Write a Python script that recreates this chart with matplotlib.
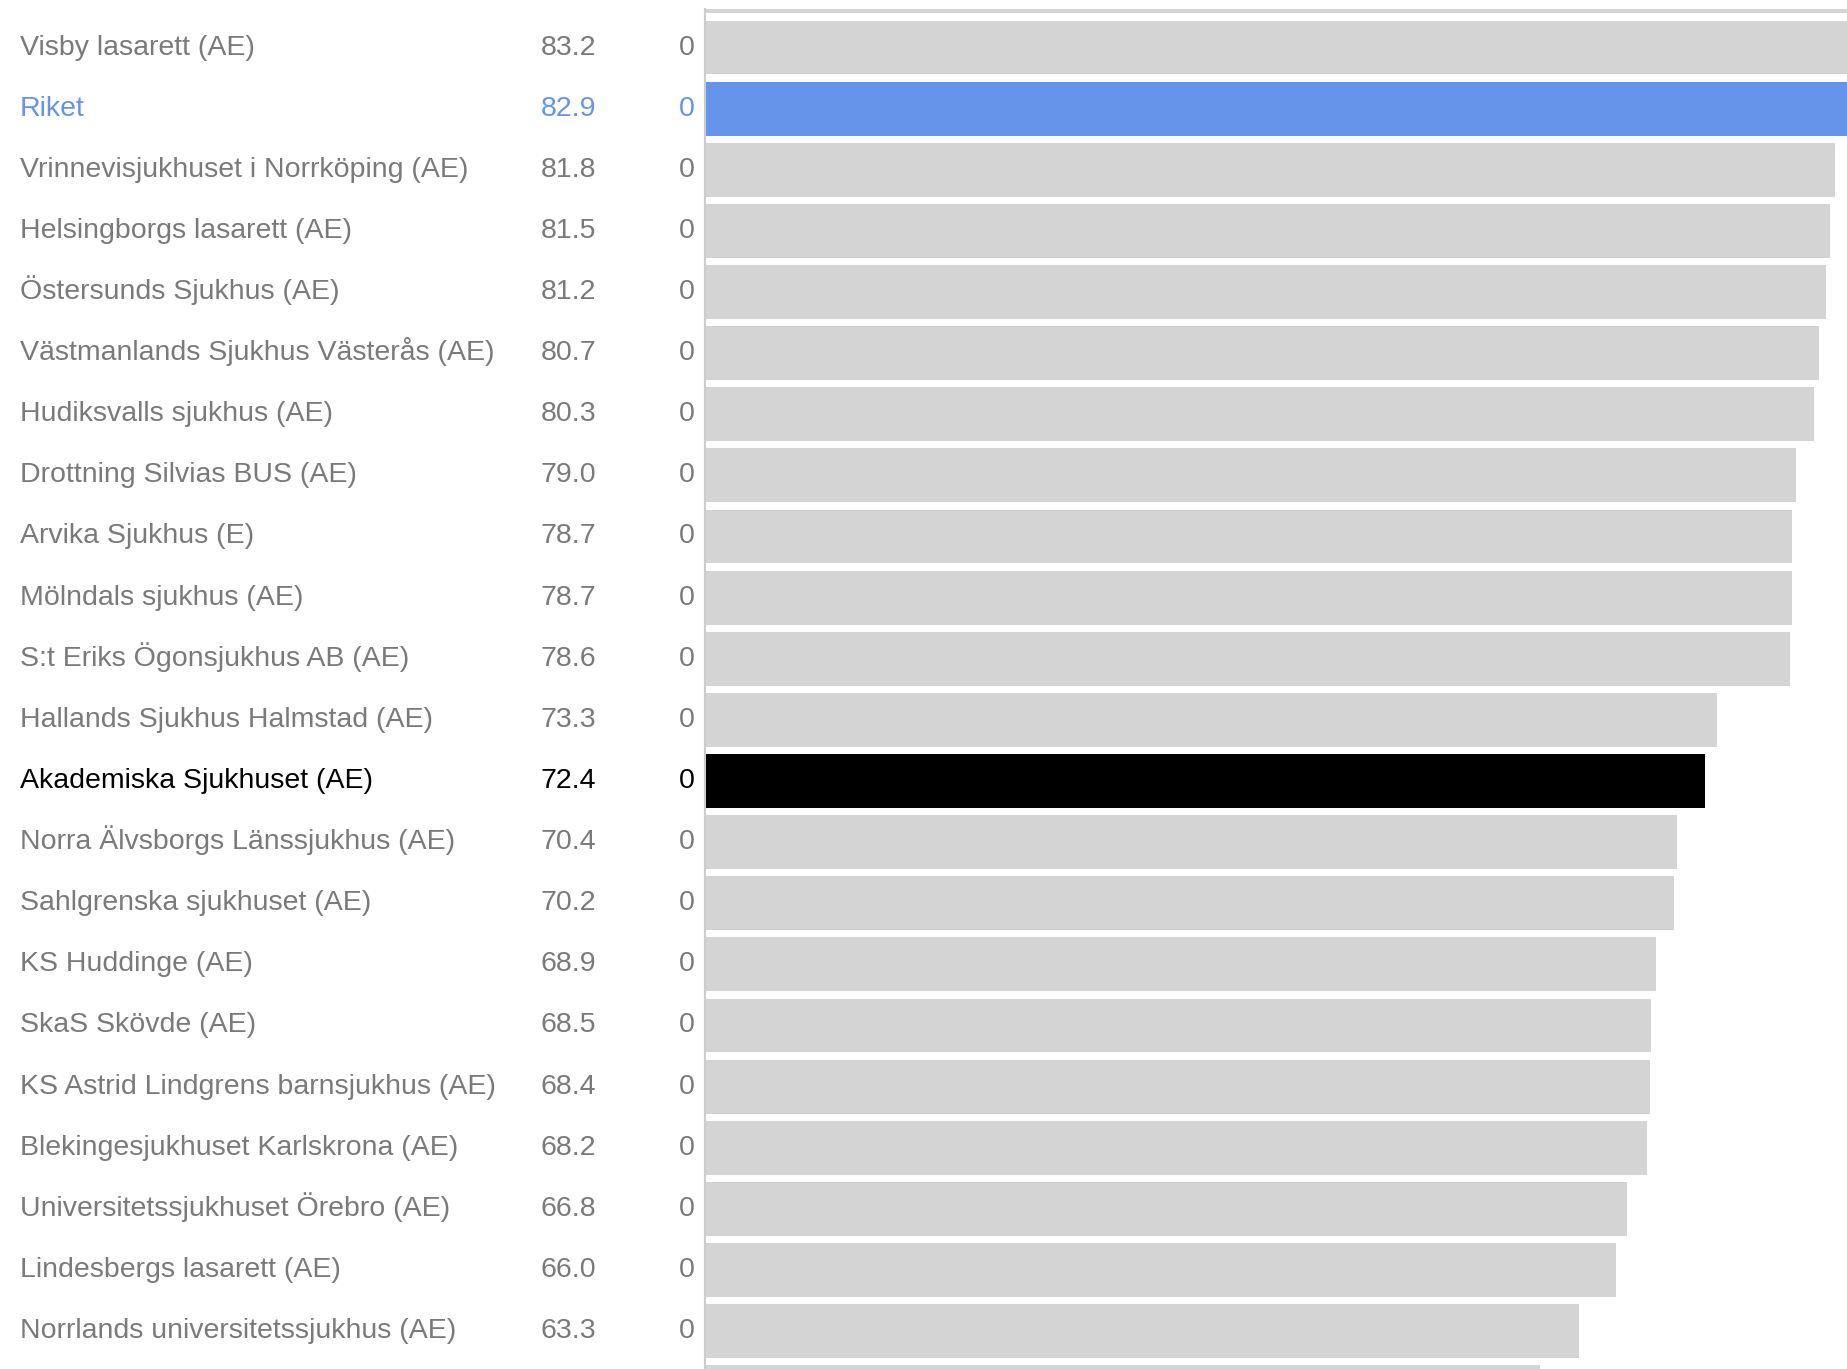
import matplotlib
matplotlib.use("Agg")
import matplotlib.pyplot as plt
from matplotlib.transforms import blended_transform_factory, offset_copy

# ---- data ----
hospitals = [
    "Visby lasarett (AE)",
    "Riket",
    "Vrinnevisjukhuset i Norrköping (AE)",
    "Helsingborgs lasarett (AE)",
    "Östersunds Sjukhus (AE)",
    "Västmanlands Sjukhus Västerås (AE)",
    "Hudiksvalls sjukhus (AE)",
    "Drottning Silvias BUS (AE)",
    "Arvika Sjukhus (E)",
    "Mölndals sjukhus (AE)",
    "S:t Eriks Ögonsjukhus AB (AE)",
    "Hallands Sjukhus Halmstad (AE)",
    "Akademiska Sjukhuset (AE)",
    "Norra Älvsborgs Länssjukhus (AE)",
    "Sahlgrenska sjukhuset (AE)",
    "KS Huddinge (AE)",
    "SkaS Skövde (AE)",
    "KS Astrid Lindgrens barnsjukhus (AE)",
    "Blekingesjukhuset Karlskrona (AE)",
    "Universitetssjukhuset Örebro (AE)",
    "Lindesbergs lasarett (AE)",
    "Norrlands universitetssjukhus (AE)",
]
values = [83.2, 82.9, 81.8, 81.5, 81.2, 80.7, 80.3, 79.0, 78.7, 78.7, 78.6,
          73.3, 72.4, 70.4, 70.2, 68.9, 68.5, 68.4, 68.2, 66.8, 66.0, 63.3]
counts = [0] * 22
# rows cut off at the top and bottom edge of the picture (labels not visible)
cut_top_value = 84.0
cut_bottom_value = 60.5

highlight_blue = "Riket"
highlight_black = "Akademiska Sjukhuset (AE)"

# ---- styling ----
GRAY_BAR = "#d4d4d4"
GRAY_TXT = "#7a7a7a"
BLUE = "#6594ea"
BLACK = "#000000"

plt.rcParams['font.family'] = ['Liberation Sans', 'DejaVu Sans']

W, H = 1847, 1369
fig = plt.figure(figsize=(W / 100, H / 100), dpi=100)
left_px = 705
ax = fig.add_axes([left_px / W, 0, 1 - left_px / W, (H - 9) / H])

all_vals = [cut_top_value] + values + [cut_bottom_value]
all_names = [None] + hospitals + [None]
colors = []
for n in all_names:
    if n == highlight_blue:
        colors.append(BLUE)
    elif n == highlight_black:
        colors.append(BLACK)
    else:
        colors.append(GRAY_BAR)
pos = list(range(len(all_vals)))
ax.barh(pos, all_vals, height=0.88, color=colors, edgecolor='none')

ax.set_xlim(0, 82.7)
ax.set_ylim(22.62, 0.37)
ax.set_xticks([])
ax.set_yticks([])
for s in ['top', 'right', 'bottom']:
    ax.spines[s].set_visible(False)
ax.spines['left'].set_color('#cccccc')
ax.spines['left'].set_linewidth(1.5)

tr = blended_transform_factory(fig.transFigure, ax.transData)
tr = offset_copy(tr, fig=fig, x=0, y=-7, units='dots')
fs = 20.5
for i, (name, v, c) in enumerate(zip(hospitals, values, counts)):
    y = i + 1
    if name == highlight_blue:
        col = BLUE
    elif name == highlight_black:
        col = BLACK
    else:
        col = GRAY_TXT
    ax.text(20 / W, y, name, transform=tr, ha='left', va='baseline',
            fontsize=fs, color=col, clip_on=False)
    ax.text(596 / W, y, f"{v:.1f}", transform=tr, ha='right', va='baseline',
            fontsize=fs, color=col, clip_on=False)
    ax.text(695 / W, y, f"{c}", transform=tr, ha='right', va='baseline',
            fontsize=fs, color=col, clip_on=False)

fig.savefig("out.png", dpi=100, facecolor='white')
